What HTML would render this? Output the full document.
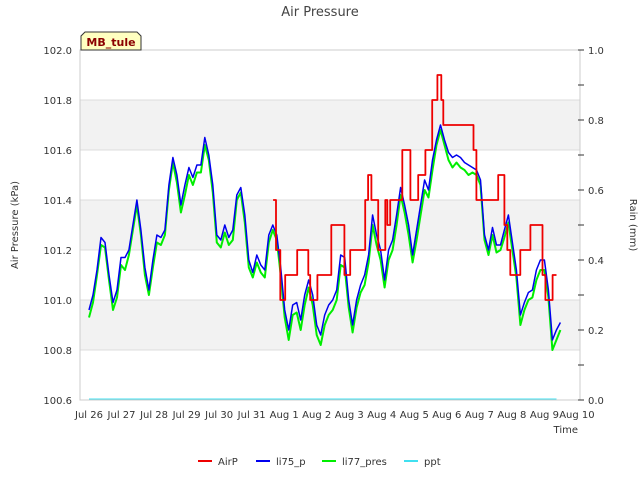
<!DOCTYPE html>
<html><head><meta charset="utf-8"><style>
body{margin:0;background:#fff}
svg{font-family:"DejaVu Sans","Liberation Sans",sans-serif}
</style></head><body>
<svg id="chart" width="640" height="480" xmlns="http://www.w3.org/2000/svg"></svg>
<script>
const tickLabels = ["Jul 26","Jul 27","Jul 28","Jul 29","Jul 30","Jul 31","Aug 1","Aug 2","Aug 3","Aug 4","Aug 5","Aug 6","Aug 7","Aug 8","Aug 9","Aug 10"];
const leftTicks = [100.6,100.8,101.0,101.2,101.4,101.6,101.8,102.0];
const rightTicks = [0.0,0.2,0.4,0.6,0.8,1.0];
const sampleStartDay = 0;
const sampleStepDay = 0.1228;
const li75 = [100.96,101.02,101.12,101.25,101.23,101.10,100.99,101.04,101.17,101.17,101.20,101.30,101.40,101.28,101.13,101.04,101.16,101.26,101.25,101.28,101.46,101.57,101.50,101.38,101.46,101.53,101.49,101.54,101.54,101.65,101.58,101.46,101.26,101.24,101.30,101.25,101.28,101.42,101.45,101.34,101.16,101.11,101.18,101.14,101.12,101.26,101.30,101.26,101.13,100.96,100.88,100.98,100.99,100.92,101.02,101.08,101.02,100.90,100.86,100.94,100.98,101.00,101.04,101.18,101.17,101.00,100.90,101.00,101.06,101.10,101.18,101.34,101.26,101.20,101.08,101.20,101.24,101.34,101.45,101.38,101.30,101.18,101.28,101.38,101.48,101.44,101.56,101.64,101.70,101.64,101.59,101.57,101.58,101.57,101.55,101.54,101.53,101.52,101.48,101.26,101.20,101.29,101.22,101.22,101.28,101.34,101.23,101.12,100.94,100.99,101.03,101.04,101.12,101.16,101.16,101.04,100.84,100.88,100.91];
const li77 = [100.93,100.99,101.10,101.22,101.21,101.08,100.96,101.01,101.14,101.12,101.18,101.28,101.38,101.26,101.10,101.02,101.13,101.23,101.22,101.26,101.44,101.55,101.47,101.35,101.42,101.50,101.46,101.51,101.51,101.62,101.56,101.43,101.23,101.21,101.27,101.22,101.24,101.40,101.43,101.31,101.13,101.09,101.15,101.11,101.09,101.23,101.28,101.24,101.10,100.93,100.84,100.94,100.95,100.88,100.98,101.05,100.98,100.86,100.82,100.90,100.94,100.96,101.00,101.14,101.13,100.97,100.87,100.97,101.03,101.06,101.15,101.30,101.22,101.16,101.05,101.16,101.20,101.30,101.42,101.35,101.26,101.15,101.24,101.34,101.44,101.41,101.52,101.62,101.68,101.62,101.56,101.53,101.55,101.53,101.52,101.50,101.51,101.50,101.46,101.24,101.18,101.26,101.19,101.20,101.25,101.31,101.20,101.09,100.90,100.96,101.00,101.01,101.08,101.12,101.12,101.01,100.80,100.84,100.88];
const airpDays = [5.66,5.75,5.88,6.03,6.40,6.74,6.80,7.02,7.45,7.85,8.03,8.49,8.58,8.68,8.89,9.11,9.17,9.26,9.63,9.88,10.12,10.34,10.55,10.71,10.83,10.89,11.82,11.91,12.58,12.77,12.86,12.95,13.26,13.57,13.94,14.03,14.25,14.37];
const airpVals = [101.4,101.2,101.0,101.1,101.2,101.1,101.0,101.1,101.3,101.1,101.2,101.4,101.5,101.4,101.2,101.4,101.3,101.4,101.6,101.4,101.5,101.6,101.8,101.9,101.8,101.7,101.6,101.4,101.5,101.3,101.2,101.1,101.2,101.3,101.1,101.0,101.1,101.1];
const pptDays = [0,14.37];
const pptVals = [0,0];

const NS="http://www.w3.org/2000/svg";
const svg=document.getElementById('chart');
const L=80,R=580,T=50,B=400;
const xS=d=>89+d*32.53;
const yL=v=>T+(102-v)*250;
const yR=v=>B-v*350;
function mk(tag,attrs,parent){const e=document.createElementNS(NS,tag);for(const k in attrs)e.setAttribute(k,attrs[k]);(parent||svg).appendChild(e);return e;}
function txt(s,attrs){const e=mk('text',attrs);e.textContent=s;return e;}

for(let i=0;i<7;i++){
  const v0=102-i*0.2;
  const r=mk('rect',{x:L,y:yL(v0),width:R-L,height:50,fill:(i%2==1)?'#f2f2f2':'#ffffff'});
  
  
}
leftTicks.forEach(v=>{
  const g=mk('line',{x1:L,x2:R,y1:yL(v),y2:yL(v),stroke:'#dcdcdc','stroke-width':1});
  
  
  const t=txt(v.toFixed(1),{x:L-8,y:yL(v)+4,'text-anchor':'end','font-size':10,fill:'#333'});
  
  
});
const frame=mk('rect',{x:L,y:T,width:R-L,height:B-T,fill:'none',stroke:'#cccccc'});


rightTicks.forEach(v=>{
  const t=txt(v.toFixed(1),{x:R+8,y:yR(v)+4,'font-size':10,fill:'#333'});
  
  
});
for(let i=0;i<=10;i++){
  const v=i/10;
  const tk=mk('line',{x1:R-2,x2:R+4,y1:yR(v),y2:yR(v),stroke:'#333'});
  
  
}
tickLabels.forEach((s,i)=>{
  const t=txt(s,{x:xS(i),y:B+18,'text-anchor':'middle','font-size':10,fill:'#333'});
  
  
});

function poly(pts,color,name,w){
  const p=mk('polyline',{points:pts.map(p=>p[0].toFixed(1)+','+p[1].toFixed(1)).join(' '),fill:'none',stroke:color,'stroke-width':w||1.5,'stroke-linejoin':'round'});
  
  
}
poly(pptDays.map((d,i)=>[xS(d),yR(pptVals[i])-1]),'#40e0f0','series-ppt',1);
poly(li77.map((v,i)=>[xS(sampleStartDay+i*sampleStepDay),yL(v)]),'#00ee00','series-li77-pres',2);
poly(li75.map((v,i)=>[xS(sampleStartDay+i*sampleStepDay),yL(v)]),'#0000ee','series-li75-p',1.5);
const ap=[];
airpDays.forEach((d,i)=>{ if(i>0) ap.push([xS(d),yL(airpVals[i-1])]); ap.push([xS(d),yL(airpVals[i])]); });
poly(ap,'#ee0000','series-airp',1.8);

let t;
t=txt('Air Pressure',{x:320,y:16,'text-anchor':'middle','font-size':13,fill:'#444'});

t=txt('Time',{x:578,y:433,'text-anchor':'end','font-size':10,fill:'#333'});

t=txt('Air Pressure (kPa)',{x:0,y:0,'text-anchor':'middle','font-size':10,fill:'#333',transform:'translate(18,225) rotate(-90)'});

t=txt('Rain (mm)',{x:0,y:0,'text-anchor':'middle','font-size':10,fill:'#333',transform:'translate(630,225) rotate(90)'});


const lb=mk('polygon',{points:'81,50 81,36 85,32 137,32 141,36 141,50',fill:'#ffffc0',stroke:'#333','stroke-width':1});

t=txt('MB_tule',{x:111,y:46,'text-anchor':'middle','font-size':11,'font-weight':'bold',fill:'#8b0000'});


const leg=[['AirP','#ee0000',198],['li75_p','#0000ee',256],['li77_pres','#00ee00',322],['ppt','#40e0f0',404]];
leg.forEach(l=>{
  const ln=mk('line',{x1:l[2],x2:l[2]+14,y1:461,y2:461,stroke:l[1],'stroke-width':2});
  
  const lt=txt(l[0],{x:l[2]+20,y:465,'font-size':10,fill:'#333'});
  
});
</script>
</body></html>
